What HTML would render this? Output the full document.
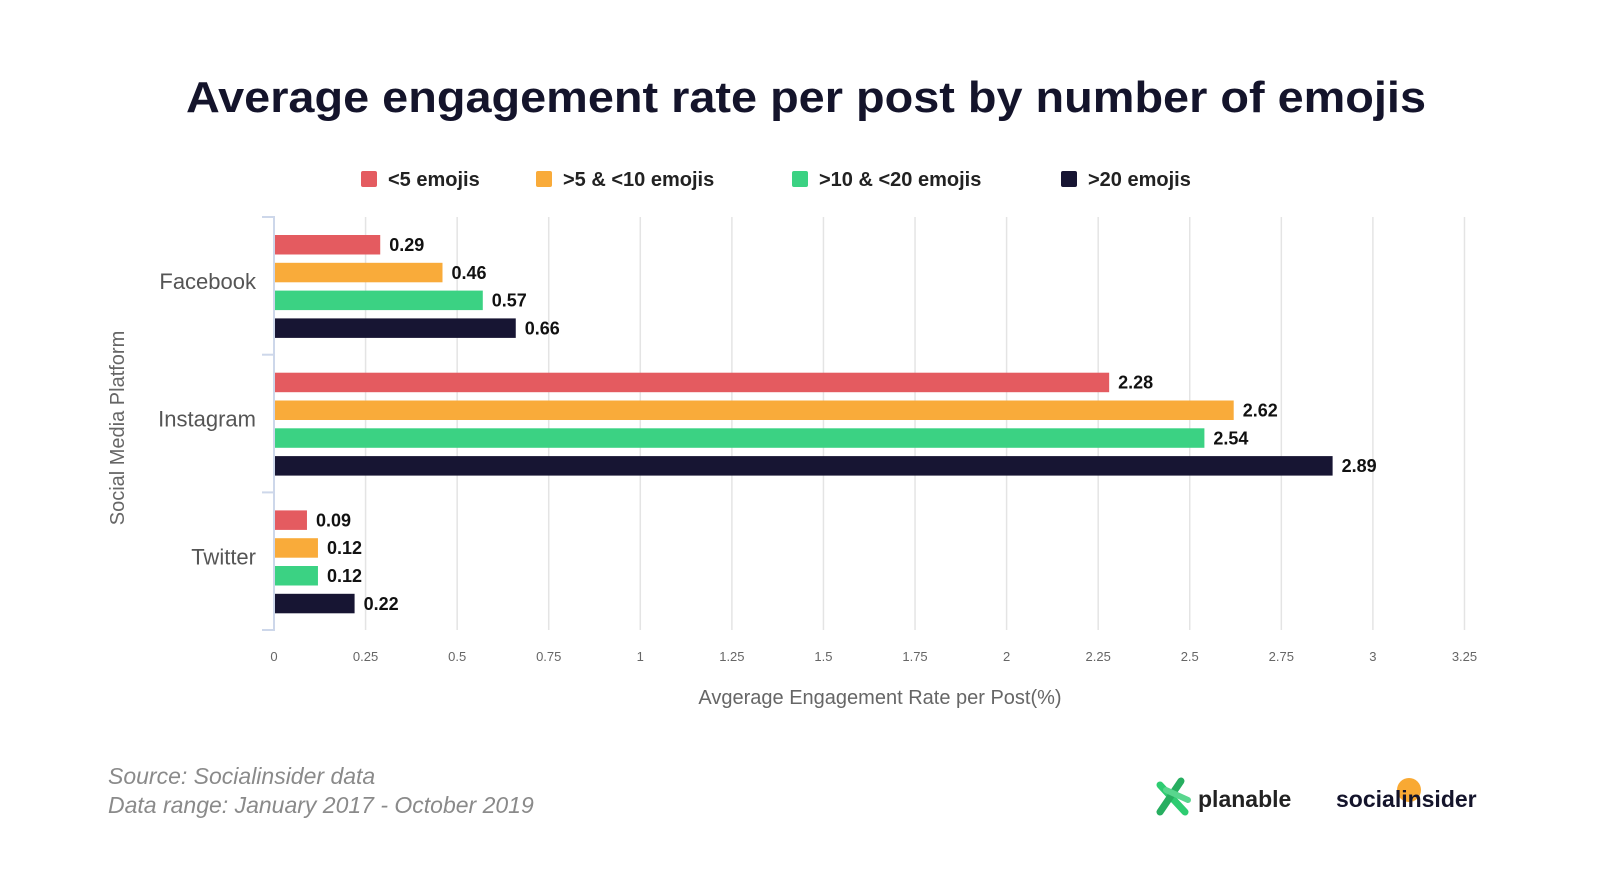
<!DOCTYPE html>
<html><head><meta charset="utf-8"><style>
html,body{margin:0;padding:0;background:#fff;}
svg{display:block;font-family:"Liberation Sans",sans-serif;}
</style></head><body>
<svg id="chart" width="1600" height="877" viewBox="0 0 1600 877">
<text x="806" y="112" text-anchor="middle" font-size="44" font-weight="bold" fill="#14142b" textLength="1240" lengthAdjust="spacingAndGlyphs">Average engagement rate per post by number of emojis</text>
<g id="legend"></g>
<g id="grid"></g>
<g id="bars"></g>
<g id="yaxis"></g>
<text x="124" y="428" transform="rotate(-90 124 428)" text-anchor="middle" font-size="20" fill="#666">Social Media Platform</text>
<text x="880" y="711" text-anchor="middle" font-size="20" fill="#666" transform="translate(0,-7)">Avgerage Engagement Rate per Post(%)</text>
<text x="108" y="784" font-size="23" font-style="italic" fill="#8a8a8a">Source: Socialinsider data</text>
<text x="108" y="813" font-size="23" font-style="italic" fill="#8a8a8a">Data range: January 2017 - October 2019</text>
<g>
<line x1="1160" y1="785" x2="1185" y2="812" stroke="#2ecc71" stroke-width="7" stroke-linecap="round"/>
<line x1="1181" y1="781" x2="1160" y2="812" stroke="#27ae60" stroke-width="7" stroke-linecap="round"/>
<line x1="1166" y1="790" x2="1188" y2="800" stroke="#58d68d" stroke-width="6" stroke-linecap="round"/>
<text x="1198" y="807" font-size="23" font-weight="bold" fill="#222">planable</text>
</g>
<g>
<circle cx="1409" cy="790" r="12" fill="#f9a933"/>
<text x="1336" y="807" font-size="23" font-weight="bold" fill="#14142b">socialinsider</text>
</g>
</svg>
<script>
const categories = ["Facebook","Instagram","Twitter"];
const seriesNames = ["<5 emojis",">5 & <10 emojis",">10 & <20 emojis",">20 emojis"];
const seriesColors = ["#e45b60","#f9ab3a","#3bd283","#171533"];
const lt5 = [0.29,2.28,0.09];
const s5to10 = [0.46,2.62,0.12];
const s10to20 = [0.57,2.54,0.12];
const gt20 = [0.66,2.89,0.22];
const tickValues = [0,0.25,0.5,0.75,1,1.25,1.5,1.75,2,2.25,2.5,2.75,3,3.25];
const tickLabels = ["0","0.25","0.5","0.75","1","1.25","1.5","1.75","2","2.25","2.5","2.75","3","3.25"];

const NS="http://www.w3.org/2000/svg";
const x0=274, unit=366.3, plotTop=217, band=137.7;
const xs=v=>x0+v*unit;
function mk(tag,attrs,parent){const e=document.createElementNS(NS,tag);for(const k in attrs)e.setAttribute(k,attrs[k]);parent.appendChild(e);return e;}
const grid=document.getElementById('grid'), bars=document.getElementById('bars'), yax=document.getElementById('yaxis'), leg=document.getElementById('legend');

tickValues.forEach((v,i)=>{
  if(i>0){const l=mk('line',{x1:xs(v),x2:xs(v),y1:plotTop,y2:630,stroke:'#e4e4e4','stroke-width':1.5},grid);
  
  }
  const t=mk('text',{x:xs(v),y:661,'text-anchor':'middle','font-size':13,fill:'#666'},grid);
  t.textContent=tickLabels[i];
  
  
});

const ax=mk('path',{d:`M${x0-12} ${plotTop}H${x0}V630H${x0-12}`,fill:'none',stroke:'#cdd7ea','stroke-width':2},yax);


for(let i=1;i<categories.length;i++){
  const tk=mk('line',{x1:x0-12,x2:x0,y1:plotTop+band*i,y2:plotTop+band*i,stroke:'#cdd7ea','stroke-width':2},yax);
  
  
}

const series=[lt5,s5to10,s10to20,gt20];
categories.forEach((c,ci)=>{
  const bt=plotTop+band*ci;
  const lab=mk('text',{x:256,y:bt+band/2+3,'text-anchor':'end','font-size':22,fill:'#555'},yax);
  lab.textContent=c;
  
  
  series.forEach((s,si)=>{
    const y=bt+18+si*27.8;
    const r=mk('rect',{x:x0,y:y,width:xs(s[ci])-x0,height:19.5,fill:seriesColors[si]},bars);
    
    
    const t=mk('text',{x:xs(s[ci])+9,y:y+16,'font-size':18,'font-weight':'bold',fill:'#111'},bars);
    t.textContent=s[ci].toFixed(2);
    
    
  });
});

const legX=[361,536,792,1061];
seriesNames.forEach((n,i)=>{
  const r=mk('rect',{x:legX[i],y:171,width:16,height:16,rx:2,fill:seriesColors[i]},leg);
  
  
  const t=mk('text',{x:legX[i]+27,y:186,'font-size':20,'font-weight':'bold',fill:'#222'},leg);
  t.textContent=n;
  
  
});
</script>
</body></html>
